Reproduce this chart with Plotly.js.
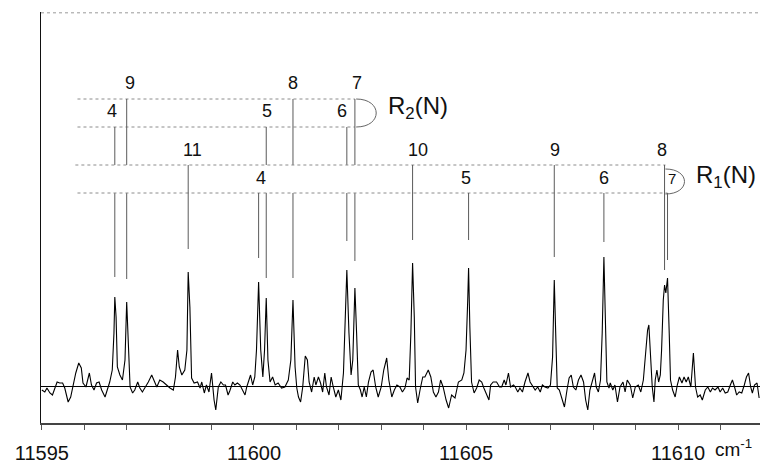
<!DOCTYPE html>
<html><head><meta charset="utf-8">
<script src="https://cdn.plot.ly/plotly-3.0.1.min.js"></script>
<style>html,body{margin:0;padding:0;background:#fff;}#chart{width:760px;height:463px;}</style>
</head><body><div id="chart"></div>
<script>
// ---- spectrum (wavenumber in cm-1, signal in arbitrary units) ----
const wavenumber = [
11595.00,11595.07,11595.12,11595.19,11595.25,11595.31,11595.36,11595.42,11595.49,11595.54,
11595.62,11595.68,11595.74,11595.80,11595.87,11595.93,11595.97,11596.04,11596.12,11596.17,
11596.23,11596.29,11596.35,11596.41,11596.49,11596.54,11596.60,11596.66,11596.70,11596.72,
11596.75,11596.78,11596.84,11596.90,11596.96,11597.00,11597.04,11597.08,11597.14,11597.19,
11597.26,11597.31,11597.37,11597.43,11597.51,11597.59,11597.65,11597.71,11597.78,11597.86,
11597.94,11598.02,11598.10,11598.15,11598.20,11598.24,11598.30,11598.37,11598.42,11598.45,
11598.49,11598.53,11598.59,11598.67,11598.73,11598.77,11598.83,11598.88,11598.94,11599.00,
11599.06,11599.10,11599.16,11599.22,11599.28,11599.33,11599.39,11599.43,
11599.50,11599.55,11599.61,11599.67,11599.73,11599.79,11599.83,11599.89,11599.92,11599.97,
11600.02,11600.06,11600.11,11600.16,11600.21,11600.25,11600.29,11600.33,11600.38,11600.44,
11600.50,11600.57,11600.65,11600.73,11600.81,11600.87,11600.92,11600.97,11601.01,11601.05,
11601.10,11601.15,11601.21,11601.26,11601.30,11601.36,11601.42,11601.46,11601.52,11601.57,
11601.62,11601.67,
11601.71,11601.77,11601.82,11601.87,11601.93,11601.99,11602.05,11602.11,11602.15,11602.19,
11602.24,11602.29,11602.33,11602.38,11602.42,11602.46,11602.51,11602.55,11602.60,11602.65,
11602.70,11602.76,11602.81,11602.87,11602.93,11603.00,11603.06,11603.13,11603.18,11603.25,
11603.31,11603.37,11603.44,11603.50,11603.56,11603.61,11603.66,11603.70,11603.74,11603.78,
11603.81,11603.86,11603.92,
11603.98,11604.03,11604.11,11604.17,11604.23,11604.29,11604.35,11604.40,11604.46,11604.53,
11604.59,11604.66,11604.74,11604.82,11604.90,11604.95,11605.00,11605.04,11605.06,11605.09,
11605.13,11605.19,11605.25,11605.31,11605.37,11605.42,11605.49,11605.54,11605.58,11605.64,
11605.72,11605.79,11605.84,11605.90,11605.94,11606.00,11606.05,11606.12,
11606.16,11606.22,11606.27,11606.33,11606.39,11606.46,11606.51,11606.56,11606.63,11606.69,
11606.75,11606.80,11606.86,11606.93,11606.99,11607.04,11607.08,11607.12,11607.15,11607.20,
11607.26,11607.32,11607.38,11607.43,11607.48,11607.53,11607.59,11607.65,11607.71,11607.77,
11607.82,11607.87,11607.92,11607.98,11608.03,11608.07,11608.12,11608.17,11608.21,11608.25,
11608.28,11608.32,11608.37,
11608.40,11608.46,11608.51,11608.57,11608.63,11608.70,11608.75,11608.80,11608.87,11608.93,
11608.99,11609.06,11609.12,11609.18,11609.23,11609.28,11609.31,11609.35,11609.39,11609.43,
11609.46,11609.50,11609.54,11609.58,11609.61,11609.65,11609.68,11609.71,11609.75,11609.79,
11609.82,11609.87,11609.93,11609.98,11610.03,11610.09,11610.14,11610.19,11610.24,11610.30,
11610.36,11610.41,11610.46,11610.52,11610.57,11610.64,
11610.70,11610.76,11610.81,11610.87,11610.94,11610.99,11611.05,11611.11,11611.17,11611.23,
11611.28,11611.33,11611.38,11611.44,11611.50,11611.56,11611.61,11611.66,11611.71,11611.75,
11611.80,11611.86,11611.91
];
const signal = [
-4,-6,-2,-7,-9,-1,4,3,3,-2,
-16,-11,1,13,23,18,3,-1,13,1,
-4,3,4,-4,-11,-4,4,16,53,89,
69,19,11,6,26,84,46,-1,-7,-4,
4,-2,-6,-2,4,11,4,-1,6,4,
1,-2,-4,9,36,19,11,16,36,114,
79,8,3,4,-2,4,-7,1,-6,13,
-14,-24,-1,4,1,1,-9,-5,
4,1,3,1,-4,-9,-1,6,11,1,
9,36,104,36,9,36,88,26,4,9,
1,3,-2,-1,6,26,86,19,-2,-11,
-16,-1,30,26,4,-6,9,1,9,3,
-6,13,
-1,-9,9,-1,-11,-4,-14,13,59,116,
53,11,26,98,53,1,-4,-11,-1,-11,
4,14,16,-1,-11,-1,16,28,6,-11,
-4,1,-1,-6,-2,8,6,53,123,69,
-1,-17,-3,
9,9,16,9,-6,-11,-6,6,-1,-14,
-22,-9,-12,4,6,13,36,86,118,59,
4,-7,-2,6,4,-2,-9,-14,1,4,
4,-1,-1,6,1,13,-1,1,
-1,-6,-2,-6,4,13,4,1,-4,-1,
-6,1,-1,-2,1,29,106,43,-2,-4,
-14,-21,-4,8,11,-1,-4,6,11,4,
-14,-24,-4,4,13,-1,-6,6,53,129,
66,4,-2,
3,-4,1,-16,-1,4,-6,6,1,-12,
-1,1,-6,6,29,56,61,29,-1,-16,
6,16,4,11,36,86,101,93,108,53,
6,-4,-11,1,9,3,9,4,9,-1,
33,-1,-11,-9,-14,-4,
-1,-6,-2,-4,-1,-6,-2,-7,-6,1,
6,-1,-9,-6,-7,1,9,13,-1,-7,
1,3,-12
];

// ---- axis ticks ----
const tickValues = [11595, 11600, 11605, 11610];
const tickLabels = ["11595", "11600", "11605", "11610"];

// ---- line assignments ----
const r2N       = [4, 5, 6, 7, 8, 9];
const r2Pos     = [11596.72, 11600.29, 11602.19, 11602.38, 11600.92, 11597.00];
const r2Row     = ["low","low","low","high","high","high"];
const r2LineEnd = [109, 108, 145, 125, 108, 107];

const r1N       = [4, 5, 6, 7, 8, 9, 10, 11];
const r1Pos     = [11600.11, 11605.06, 11608.25, 11609.75, 11609.68, 11607.08, 11603.74, 11598.45];
const r1Row     = ["low","low","low","low","high","high","high","high"];
const r1LineEnd = [128, 146, 144, 126, 116, 129, 146, 137];

// ---- layout constants (positions / styles) ----
const ROW = {r2high: 287, r2low: 259, r1high: 221, r1low: 193};
const X_LEFT = 11595.84;
const FONT = '"Liberation Sans",Arial,Helvetica,sans-serif';
const GUIDE = {color: '#5a5a5a', width: 1};
const DOT = {color: '#8c8c8c', width: 1, dash: 'dot'};
const r2Shift = [-3, 1, -5, 2, 0, 3];
const r1Shift = [2, -3, 0, 4, -3, 1, 5, 4];

const shapes = [];
const annotations = [];

function vline(x, y0, y1) {
  shapes.push({type: 'line', xref: 'x', yref: 'y', x0: x, x1: x, y0: y0, y1: y1, line: GUIDE});
}
function hdot(xa, xb, y) {
  shapes.push({type: 'line', xref: 'x', yref: 'y', x0: xa, x1: xb, y0: y, y1: y, line: DOT});
}
function label(x, y, txt, shift, size) {
  annotations.push({xref: 'x', yref: 'y', x: x, y: y, text: txt, showarrow: false,
    xanchor: 'center', yanchor: 'middle', xshift: shift,
    font: {family: FONT, size: size, color: '#111'}});
}

// R2 ladder
const r2Turn = Math.max(...r2Pos);
hdot(X_LEFT, r2Turn, ROW.r2high);
hdot(X_LEFT, r2Turn, ROW.r2low);
r2N.forEach((n, i) => {
  const y0 = r2Row[i] === 'high' ? ROW.r2high : ROW.r2low;
  vline(r2Pos[i], y0, ROW.r1high);
  vline(r2Pos[i], ROW.r1low, r2LineEnd[i]);
  label(r2Pos[i], y0 + 16, String(n), r2Shift[i], 18);
});
shapes.push({type: 'path', xref: 'x', yref: 'y',
  path: `M ${r2Turn + 0.03},${ROW.r2high} C ${r2Turn + 0.66},${ROW.r2high} ${r2Turn + 0.66},${ROW.r2low} ${r2Turn + 0.03},${ROW.r2low}`,
  line: {color: '#666', width: 1}});

// R1 ladder
const r1Turn = Math.max(...r1Pos);
hdot(X_LEFT - 0.05, r1Turn - 0.05, ROW.r1high);
hdot(X_LEFT, r1Turn, ROW.r1low);
r1N.forEach((n, i) => {
  const y0 = r1Row[i] === 'high' ? ROW.r1high : ROW.r1low;
  vline(r1Pos[i], y0, r1LineEnd[i]);
  label(r1Pos[i], y0 + 15, String(n), r1Shift[i], n === 7 ? 15 : 18);
});
shapes.push({type: 'path', xref: 'x', yref: 'y',
  path: `M ${r1Turn - 0.05},${ROW.r1high - 4} C ${r1Turn + 0.55},${ROW.r1high - 4} ${r1Turn + 0.55},${ROW.r1low - 1} ${r1Turn - 0.05},${ROW.r1low - 1}`,
  line: {color: '#666', width: 1}});

// top frame (dotted)
shapes.push({type: 'line', xref: 'paper', yref: 'paper', x0: 0, x1: 1, y0: 0.998, y1: 0.998,
  line: {color: '#999', width: 1, dash: 'dot'}});

// branch names
annotations.push({xref: 'x', yref: 'y', x: 11603.12, y: 279, xanchor: 'left', yanchor: 'middle',
  text: 'R<sub>2</sub>(N)', showarrow: false, font: {family: FONT, size: 24, color: '#111'}});
annotations.push({xref: 'x', yref: 'y', x: 11610.38, y: 210, xanchor: 'left', yanchor: 'middle',
  text: 'R<sub>1</sub>(N)', showarrow: false, font: {family: FONT, size: 24, color: '#111'}});
// unit
annotations.push({xref: 'paper', yref: 'paper', x: 0.935, y: -0.096, xanchor: 'left', yanchor: 'bottom',
  text: 'cm<sup>-1</sup>', showarrow: false, font: {family: FONT, size: 19, color: '#111'}});

const trace = {
  x: wavenumber, y: signal, type: 'scatter', mode: 'lines',
  line: {color: '#000', width: 1.1}, hoverinfo: 'skip'
};

const layout = {
  width: 760, height: 463,
  margin: {l: 41, r: 0, t: 12, b: 40},
  paper_bgcolor: '#fff', plot_bgcolor: '#fff',
  showlegend: false,
  xaxis: {
    range: [11594.98, 11611.93], autorange: false,
    tickmode: 'array', tickvals: tickValues, ticktext: tickLabels,
    ticks: 'outside', ticklen: 5, tickwidth: 1, tickcolor: '#555',
    minor: {dtick: 1, tick0: 11595, ticks: 'outside', ticklen: 5, tickwidth: 1, tickcolor: '#555', showgrid: false},
    showline: true, linecolor: '#444', linewidth: 1.5,
    showgrid: false, zeroline: false, automargin: false,
    ticklabelstandoff: 6,
    tickfont: {family: FONT, size: 20, color: '#111'}
  },
  yaxis: {
    range: [-37, 374], autorange: false,
    showticklabels: false, ticks: '', showgrid: false,
    showline: true, linecolor: '#111', linewidth: 1.5,
    zeroline: true, zerolinecolor: '#000', zerolinewidth: 1,
    automargin: false
  },
  shapes: shapes,
  annotations: annotations
};

Plotly.newPlot('chart', [trace], layout, {displayModeBar: false, staticPlot: true});
</script>
</body></html>
